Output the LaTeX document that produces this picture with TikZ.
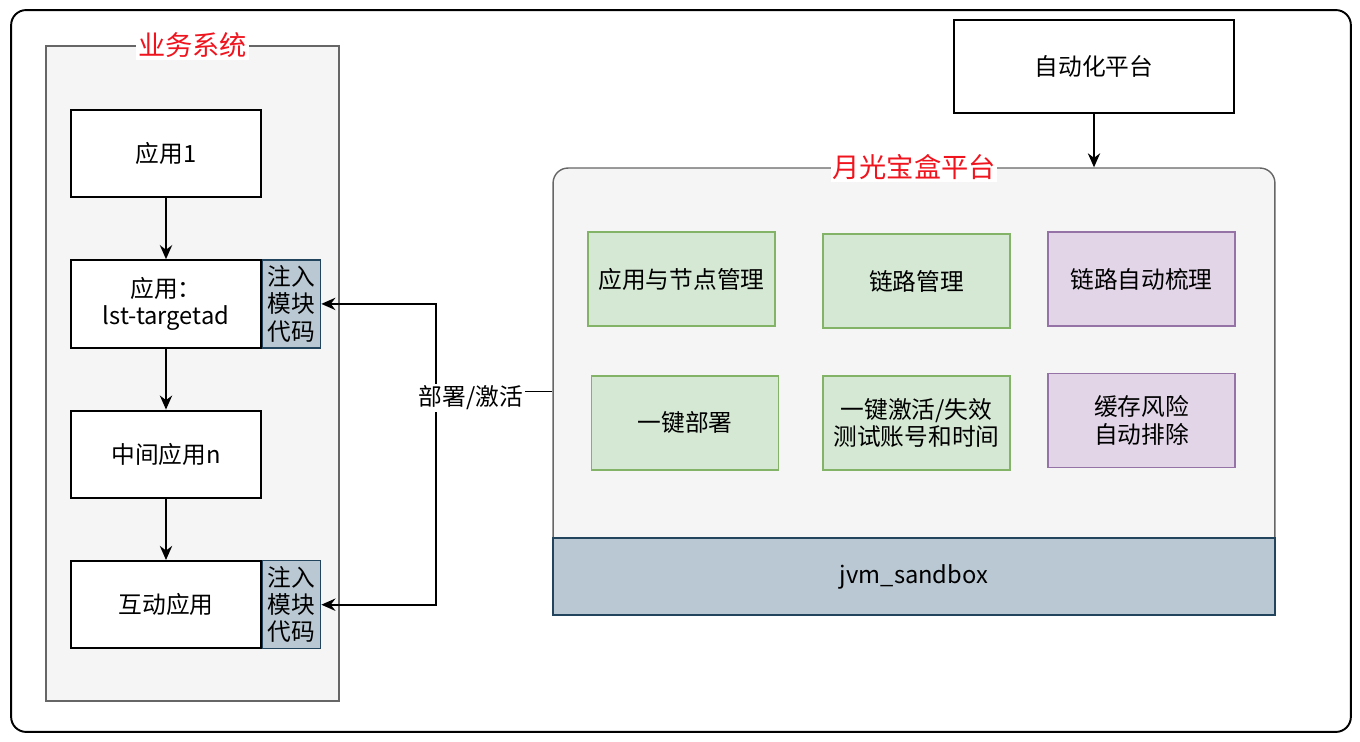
\documentclass[tikz,border=0pt]{standalone}
\usepackage{fontspec}
\setmainfont{Noto Sans CJK SC}
\usetikzlibrary{positioning,arrows.meta}
\definecolor{panelgray}{HTML}{F5F5F5}
\definecolor{panelline}{HTML}{666666}
\definecolor{injfill}{HTML}{BAC8D3}
\definecolor{injline}{HTML}{23445D}
\definecolor{modfill}{HTML}{D5E8D4}
\definecolor{modline}{HTML}{82B366}
\definecolor{autofill}{HTML}{E1D5E7}
\definecolor{autoline}{HTML}{9673A6}
\definecolor{titlered}{HTML}{F0141E}
\begin{document}
\begin{tikzpicture}[x=0.02cm, y=-0.02cm, >={Stealth[length=8pt,width=7pt]},
  font=\fontsize{13.5pt}{15.5pt}\selectfont, node distance=1.22cm,
  app/.style={draw, line width=1.1pt, fill=white, align=center, minimum width=3.8cm, minimum height=1.75cm},
  inj/.style={draw=injline, line width=0.8pt, fill=injfill, align=center, inner sep=0.5pt, minimum width=1.16cm, minimum height=1.76cm},
  panel/.style={draw=panelline, line width=0.8pt, fill=panelgray},
  panetitle/.style={fill=white, text=titlered, inner sep=1pt, font=\fontsize{15.5pt}{17pt}\selectfont},
  mod/.style={draw=modline, line width=0.8pt, fill=modfill, align=center, minimum width=3.74cm, minimum height=1.88cm},
  automod/.style={mod, draw=autoline, fill=autofill},
  link/.style={->, line width=1pt}]
\useasboundingbox (0,0) rectangle (1360,742);
\node[draw, line width=1.1pt, rounded corners=0.3cm, minimum width=26.8cm, minimum height=14.44cm] (frame) at (681,371) {};

% business side
\node[panel, minimum width=5.86cm, minimum height=13.1cm] (biz) at (192.5,373.5) {};
\node[panetitle] (biztitle) at (biz.north) {业务系统};
\node[app] (app1) at (166,153.5) {应用1};
\node[app, below=of app1] (target) {应用：\\lst-targetad};
\node[inj, right=0pt of target] (inj1) {注入\\模块\\代码};
\node[app, below=of target] (mid) {中间应用n};
\node[app, below=of mid] (inter) {互动应用};
\node[inj, right=0pt of inter] (inj2) {注入\\模块\\代码};
\draw[link] (app1) -- (target); \draw[link] (target) -- (mid);
\draw[link] (mid) -- (inter);

% platform side
\node[panel, rounded corners=0.3cm, minimum width=14.44cm, minimum height=8.94cm] (plat) at (914,391.5) {};
\node[panetitle] (plattitle) at (plat.north) {月光宝盒平台};
\node[draw=injline, line width=0.8pt, fill=injfill, minimum width=14.44cm, minimum height=1.54cm] (jvm) at (914,576.5) {jvm\_sandbox};
\node[mod] (nodes) at (681.5,279) {应用与节点管理};
\node[mod] (links) at (916.5,281) {链路管理};
\node[automod] (sort) at (1141.5,279) {链路自动梳理};
\node[mod] (deploy) at (685,423) {一键部署};
\node[mod] (activate) at (916.5,423) {一键激活/失效\\测试账号和时间};
\node[automod] (cache) at (1141.5,420.5) {缓存风险\\自动排除};
\node[app, minimum width=5.6cm, minimum height=1.86cm] (autop) at (1094,66.5) {自动化平台};
\draw[link] (autop) -- (autop |- plat.north);

% deploy / activate connector
\coordinate (junc) at (436,391.5);
\draw[link, -] (plat.west) -- (junc);
\draw[link] (junc) |- (inj1.east);
\draw[link] (junc) |- (inj2.east);
\node[fill=white, inner sep=1pt] (deplabel) at (471,398) {部署/激活};
\end{tikzpicture}
\end{document}
